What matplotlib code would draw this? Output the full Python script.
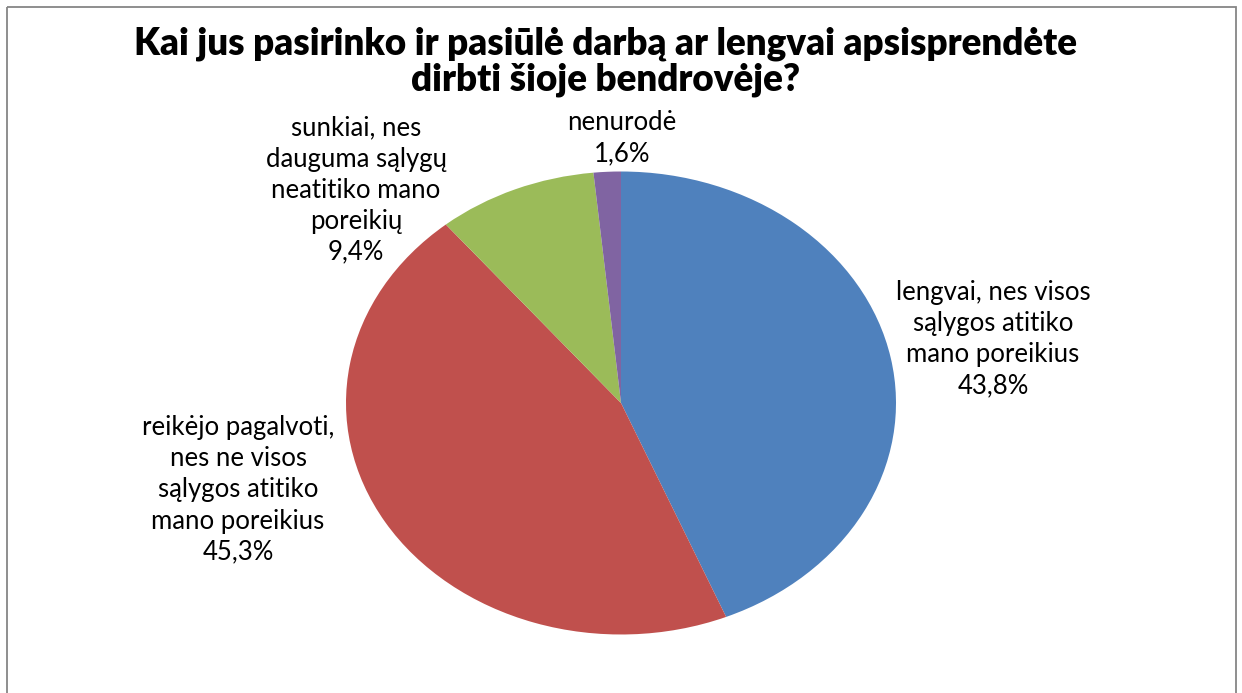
import matplotlib
matplotlib.use("Agg")
import matplotlib.pyplot as plt
from matplotlib.patches import Rectangle

title = "Kai jus pasirinko ir pasiūlė darbą ar lengvai apsisprendėte\ndirbti šioje bendrovėje?"
categories = [
    "lengvai, nes visos\nsąlygos atitiko\nmano poreikius",
    "reikėjo pagalvoti,\nnes ne visos\nsąlygos atitiko\nmano poreikius",
    "sunkiai, nes\ndauguma sąlygų\nneatitiko mano\nporeikių",
    "nenurodė",
]
values = [43.8, 45.3, 9.4, 1.6]
value_labels = ["43,8%", "45,3%", "9,4%", "1,6%"]
colors = ["#4F81BD", "#C0504D", "#9BBB59", "#8064A2"]

W, H = 1242, 693
fig = plt.figure(figsize=(W / 100, H / 100), dpi=100)
FONT = "Lato"

# frame
bg = fig.add_axes([0, 0, 1, 1])
bg.set_xlim(0, W)
bg.set_ylim(H, 0)
bg.axis("off")
bg.add_patch(Rectangle((7, 7), 1229, 700, fill=False, edgecolor="#868686", linewidth=1.3))

# pie (elliptical, as in the reference)
cx, cy, rx, ry = 621, 403, 275, 231.5
ax = fig.add_axes([(cx - rx) / W, (H - cy - ry) / H, 2 * rx / W, 2 * ry / H])
ax.pie(values, colors=colors, startangle=90, counterclock=False,
       wedgeprops=dict(linewidth=0))
ax.set_aspect("auto")
ax.set_xlim(-1, 1)
ax.set_ylim(-1, 1)

bg.text(606, 62, title, ha="center", va="center", fontsize=26.5,
        fontweight="heavy", family=FONT, linespacing=1.05)

label_pos = [(993, 339), (238, 490), (356, 190), (622, 138)]
for cat, vl, (x, y) in zip(categories, value_labels, label_pos):
    bg.text(x, y, cat + "\n" + vl, ha="center", va="center", fontsize=18.5,
            family=FONT, linespacing=1.3, color="#000000")

fig.savefig("out.png", dpi=100)
